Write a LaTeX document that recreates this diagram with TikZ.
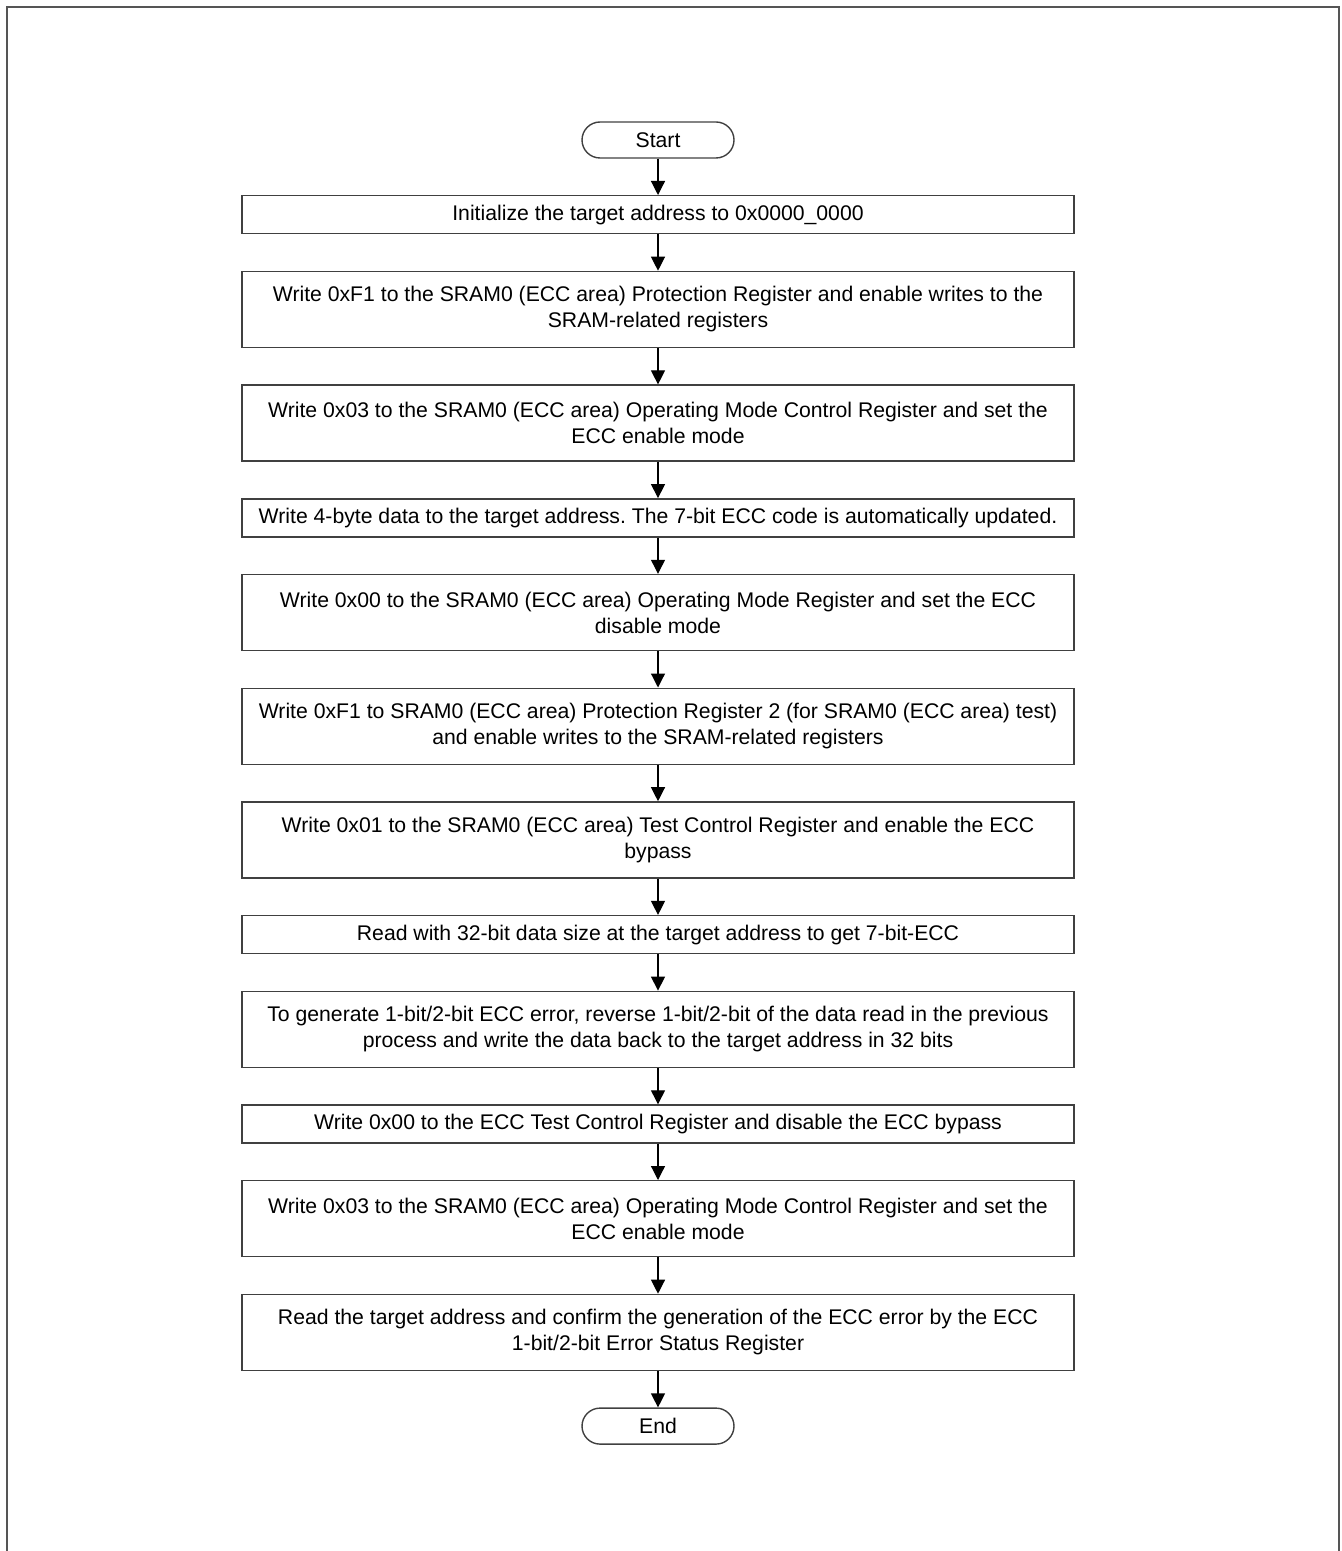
\documentclass[tikz,border=0pt]{standalone}
\usepackage{fontspec}
\setmainfont{Liberation Sans}
\usepackage{xcolor}
\usepackage{tikz}
\usetikzlibrary{arrows.meta, positioning}
\definecolor{framegray}{RGB}{85,85,85}
\definecolor{boxgray}{RGB}{64,64,64}
\tikzset{
  blk/.style={rectangle, draw=boxgray, line width=0.7pt, fill=white, align=center,
    font=\fontsize{10.6}{13}\selectfont, inner sep=1pt,
    minimum width=416pt, minimum height=19pt},
  blktwo/.style={blk, minimum height=38pt},
  term/.style={rectangle, rounded corners=9pt, draw=boxgray, line width=0.7pt,
    font=\fontsize{10.6}{13}\selectfont, minimum width=76pt, minimum height=18pt,
    inner sep=1pt},
  fa/.style={-{Triangle[length=7pt, width=7pt]}, line width=0.6pt, color=black},
  node distance=18.15pt,
}
\frenchspacing
\begin{document}
\begin{tikzpicture}
\useasboundingbox (0,0) rectangle (670.5pt,-775.5pt);
% outer frame, open at the bottom
\draw[framegray, line width=1pt] (3.25pt,-775.5pt) -- (3.25pt,-3.75pt)
  -- (669.5pt,-3.75pt) -- (669.5pt,-775.5pt);

\node[term] (start) at (329pt,-70pt) {Start};
\node[blk, below=of start] (init) {Initialize the target address to 0x0000\_0000};
\node[blktwo, below=of init] (prot) {Write 0xF1 to the SRAM0 (ECC area) Protection Register and enable writes to the\\SRAM-related registers};
\node[blktwo, below=of prot] (eccon) {Write 0x03 to the SRAM0 (ECC area) Operating Mode Control Register and set the\\ECC enable mode};
\node[blk, below=of eccon] (wrdata) {Write 4-byte data to the target address. The 7-bit ECC code is automatically updated.};
\node[blktwo, below=of wrdata] (eccoff) {Write 0x00 to the SRAM0 (ECC area) Operating Mode Register and set the ECC\\disable mode};
\node[blktwo, below=of eccoff] (prottwo) {Write 0xF1 to SRAM0 (ECC area) Protection Register 2 (for SRAM0 (ECC area) test)\\and enable writes to the SRAM-related registers};
\node[blktwo, below=of prottwo] (bypon) {Write 0x01 to the SRAM0 (ECC area) Test Control Register and enable the ECC\\bypass};
\node[blk, below=of bypon] (rdecc) {Read with 32-bit data size at the target address to get 7-bit-ECC};
\node[blktwo, below=of rdecc] (flip) {To generate 1-bit/2-bit ECC error, reverse 1-bit/2-bit of the data read in the previous\\process and write the data back to the target address in 32 bits};
\node[blk, below=of flip] (bypoff) {Write 0x00 to the ECC Test Control Register and disable the ECC bypass};
\node[blktwo, below=of bypoff] (eccagain) {Write 0x03 to the SRAM0 (ECC area) Operating Mode Control Register and set the\\ECC enable mode};
\node[blktwo, below=of eccagain] (check) {Read the target address and confirm the generation of the ECC error by the ECC\\1-bit/2-bit Error Status Register};
\node[term, below=of check] (end) {End};

\draw[fa] (start) -- (init);
\draw[fa] (init) -- (prot);
\draw[fa] (prot) -- (eccon);
\draw[fa] (eccon) -- (wrdata);
\draw[fa] (wrdata) -- (eccoff);
\draw[fa] (eccoff) -- (prottwo);
\draw[fa] (prottwo) -- (bypon);
\draw[fa] (bypon) -- (rdecc);
\draw[fa] (rdecc) -- (flip);
\draw[fa] (flip) -- (bypoff);
\draw[fa] (bypoff) -- (eccagain);
\draw[fa] (eccagain) -- (check);
\draw[fa] (check) -- (end);
\end{tikzpicture}
\end{document}
